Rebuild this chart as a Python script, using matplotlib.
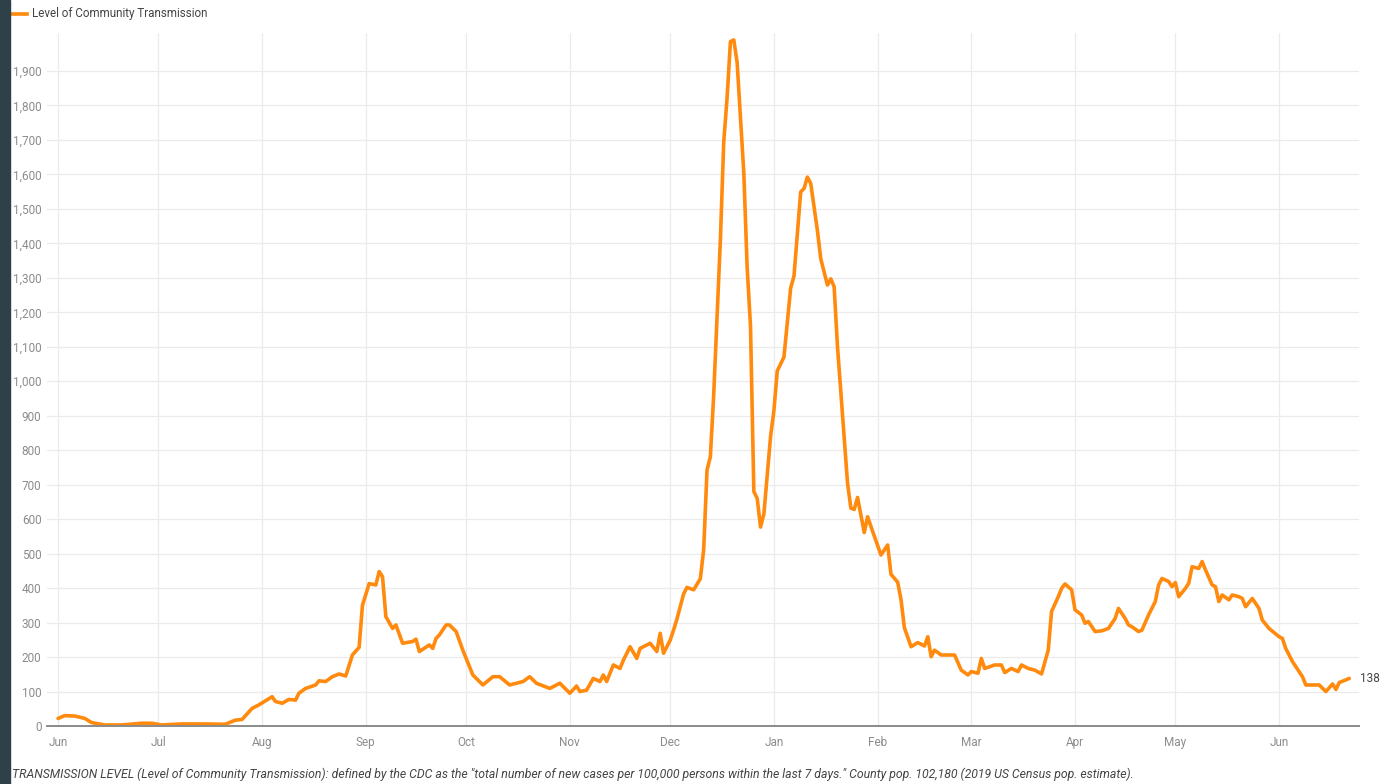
import matplotlib
matplotlib.use("Agg")
import matplotlib.pyplot as plt
import pandas as pd
from matplotlib.patches import Rectangle
from matplotlib.lines import Line2D
from matplotlib.ticker import FuncFormatter

# ---------------- data ----------------
start_date = "2020-06-01"
day_offset = [
    0, 2, 5, 8, 10, 14, 19, 25, 28, 31,
    37, 44, 50, 53, 55, 58, 60, 64, 65, 67,
    69, 71, 72, 74, 77, 78, 80, 82, 84, 86,
    88, 90, 91, 93, 95, 96, 97, 98, 100, 101,
    103, 106, 107, 108, 111, 112, 113, 114, 116, 117,
    119, 121, 124, 127, 130, 132, 135, 137, 139, 141,
    143, 147, 150, 153, 155, 156, 158, 160, 162, 163,
    164, 166, 168, 169, 171, 173, 174, 177, 179, 180,
    181, 183, 184, 185, 187, 188, 190, 192, 193, 194,
    195, 196, 198, 199, 200, 201, 202, 203, 205, 206,
    207, 208, 209, 210, 211, 213, 214, 215, 217, 219,
    220, 222, 223, 224, 225, 227, 228, 230, 231, 232,
    233, 234, 236, 237, 238, 239, 241, 242, 244, 246,
    248, 249, 251, 252, 253, 255, 257, 259, 260, 261,
    262, 264, 268, 270, 272, 273, 275, 276, 277, 280,
    282, 283, 285, 287, 288, 290, 292, 294, 296, 297,
    299, 300, 301, 303, 304, 306, 307, 308, 310, 312,
    314, 316, 317, 319, 320, 321, 323, 324, 326, 328,
    329, 330, 332, 333, 334, 335, 337, 338, 339, 341,
    342, 343, 345, 346, 347, 348, 350, 351, 353, 354,
    355, 357, 359, 360, 362, 365, 366, 367, 369, 371,
    372, 373, 377, 379, 381, 382, 383, 386,
]
transmission_level = [
    22, 30, 29, 22, 10, 3, 3, 8, 8, 3,
    6, 6, 5, 17, 19, 51, 61, 85, 71, 66,
    77, 75, 95, 109, 119, 131, 129, 143, 151, 145,
    206, 228, 350, 413, 409, 448, 433, 317, 283, 293,
    240, 245, 252, 216, 235, 225, 254, 264, 293, 293,
    274, 220, 148, 119, 143, 143, 119, 124, 129, 143,
    124, 109, 124, 95, 116, 100, 104, 138, 129, 148,
    129, 177, 167, 191, 230, 196, 225, 240, 216, 269,
    211, 249, 278, 310, 383, 402, 395, 427, 511, 742,
    781, 961, 1411, 1694, 1822, 1985, 1990, 1925, 1604, 1330,
    1160, 680, 660, 577, 615, 840, 915, 1030, 1070, 1270,
    1305, 1549, 1559, 1592, 1574, 1437, 1355, 1279, 1297, 1274,
    1101, 969, 705, 632, 628, 663, 561, 607, 551, 496,
    525, 440, 417, 366, 285, 230, 242, 232, 259, 201,
    220, 206, 206, 162, 148, 158, 153, 196, 167, 177,
    177, 155, 167, 158, 177, 167, 162, 151, 220, 332,
    375, 399, 412, 395, 337, 322, 298, 303, 274, 276,
    283, 312, 341, 312, 293, 288, 274, 278, 322, 361,
    409, 428, 419, 404, 416, 375, 399, 414, 462, 457,
    477, 453, 409, 404, 361, 380, 366, 380, 375, 370,
    346, 370, 341, 307, 283, 259, 254, 225, 187, 158,
    143, 119, 119, 100, 122, 106, 126, 138,
]
month_labels = ["Jun", "Jul", "Aug", "Sep", "Oct", "Nov", "Dec",
                "Jan", "Feb", "Mar", "Apr", "May", "Jun"]
y_ticks = list(range(0, 2000, 100))
series_name = "Level of Community Transmission"
caption = ('TRANSMISSION LEVEL (Level of Community Transmission): defined by the CDC as the '
           '"total number of new cases per 100,000 persons within the last 7 days." '
           'County pop. 102,180 (2019 US Census pop. estimate).')

# ---------------- plot ----------------
plt.rcParams["font.family"] = ["Roboto", "DejaVu Sans"]

start = pd.Timestamp(start_date)
dates = start + pd.to_timedelta(day_offset, unit="D")
month_ticks = pd.date_range(start, periods=len(month_labels), freq="MS")

W, H = 1393, 784
fig = plt.figure(figsize=(W / 100, H / 100), dpi=100)
fig.patch.set_facecolor("white")

ax_l, ax_r, ax_t, ax_b = 47, 1359, 33, 726
ax = fig.add_axes([ax_l / W, 1 - ax_b / H, (ax_r - ax_l) / W, (ax_b - ax_t) / H])

orange = "#ff8a0d"
ax.plot(dates, transmission_level, color=orange, lw=2.6, solid_joinstyle="round",
        solid_capstyle="round", zorder=3)

ax.set_xlim(start - pd.Timedelta(days=3.3), start + pd.Timedelta(days=388.9))
ax.set_ylim(0, 2010)

ax.set_xticks(month_ticks)
ax.set_xticklabels(month_labels)
ax.set_yticks(y_ticks)
ax.yaxis.set_major_formatter(FuncFormatter(lambda v, p: f"{int(v):,}"))

ax.grid(True, color="#ebebeb", lw=0.9, zorder=0)
ax.set_axisbelow(True)
for s in ["top", "right", "left"]:
    ax.spines[s].set_visible(False)
ax.spines["bottom"].set_color("#8a8a8a")
ax.spines["bottom"].set_linewidth(1.4)
ax.spines["bottom"].set_zorder(4)

ax.tick_params(axis="both", length=0, labelsize=8.5, colors="#8c8c8c")
ax.tick_params(axis="x", pad=7)
ax.tick_params(axis="y", pad=4)

# end label
ax.annotate(f"{transmission_level[-1]}", xy=(dates[-1], transmission_level[-1]),
            xytext=(8, 0), textcoords="offset points", va="center", ha="left",
            fontsize=8.5, color="#444444")

# legend
fig.add_artist(Line2D([12 / W, 27 / W], [1 - 14 / H, 1 - 14 / H], color=orange, lw=2.6))
fig.text(32 / W, 1 - 14 / H, series_name, fontsize=8.4, color="#444444", va="center", ha="left")

# caption
fig.text(12 / W, 1 - 774 / H, caption, fontsize=8.8, style="italic", color="#444444",
         va="center", ha="left")

# dark left border
fig.patches.append(Rectangle((0, 0), 10 / W, 1, transform=fig.transFigure,
                             color="#2e4148", zorder=10))

fig.savefig("out.png", dpi=100)
